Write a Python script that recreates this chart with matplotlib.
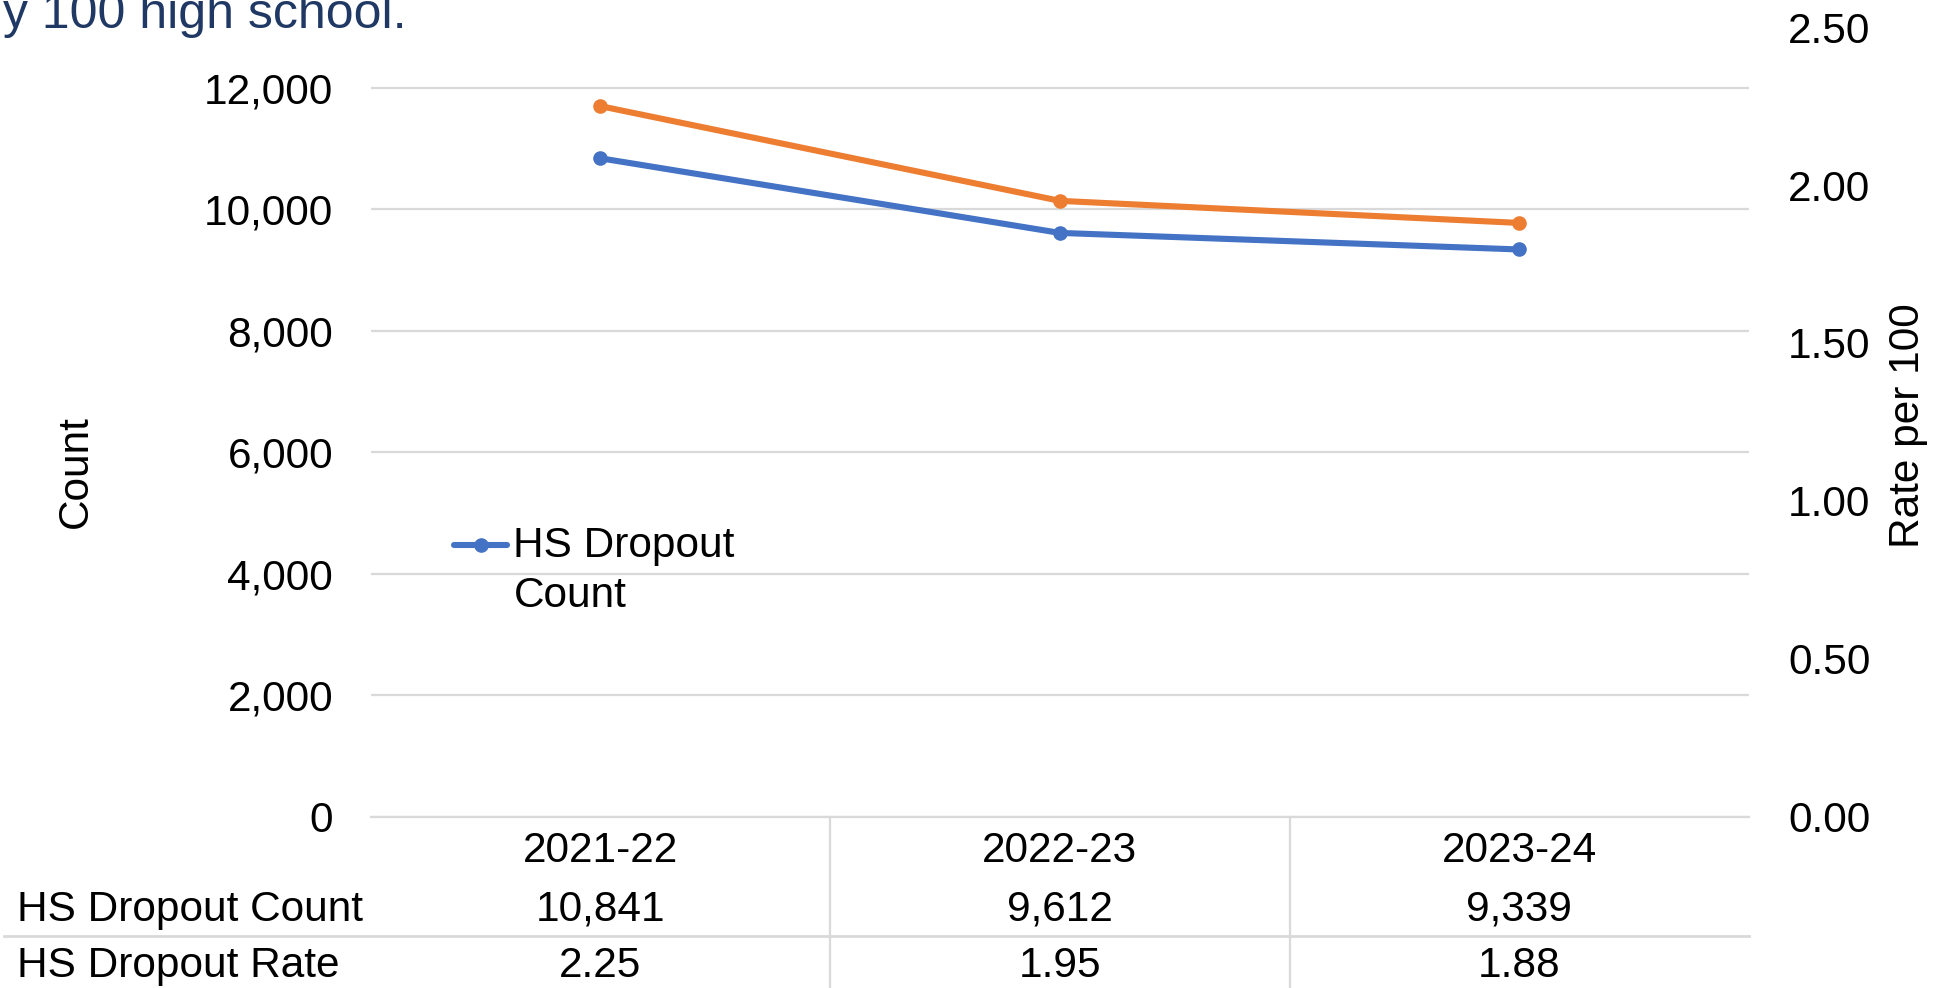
import matplotlib.pyplot as plt
from matplotlib.lines import Line2D
from matplotlib.legend_handler import HandlerLine2D
from matplotlib.ticker import FuncFormatter

# datos
anos = ['2021-22', '2022-23', '2023-24']
dropout_count = [10841, 9612, 9339]
dropout_rate = [2.25, 1.95, 1.88]
count_labels = ['10,841', '9,612', '9,339']
rate_labels = ['2.25', '1.95', '1.88']
row_names = ['HS Dropout Count', 'HS Dropout Rate']

AZUL = '#4472C4'
LARANJA = '#ED7D31'
GRADE = '#D9D9D9'
FS = 30.5


class HandleNaPrimeiraLinha(HandlerLine2D):
    # sobe o traço da legenda para ficar na altura da primeira linha do texto
    def create_artists(self, legend, orig_handle, xdescent, ydescent, width, height, fontsize, trans):
        return super().create_artists(legend, orig_handle, xdescent, ydescent - 39,
                                      width, height, fontsize, trans)


plt.rcParams['font.family'] = ['Liberation Sans', 'DejaVu Sans']

fig = plt.figure(figsize=(19.37, 9.88), dpi=100)
ax = fig.add_axes([0.1913, 0.1735, 0.7117, 0.799])
ax2 = ax.twinx()

x = list(range(len(anos)))
linha_count, = ax.plot(x, dropout_count, color=AZUL, lw=4.4, marker='o', ms=9.5,
                       label='HS Dropout\nCount', solid_capstyle='round', zorder=3)
ax2.plot(x, dropout_rate, color=LARANJA, lw=4.4, marker='o', ms=9.5, solid_capstyle='round')

ax.set_xlim(-0.5, 2.5)
ax.set_ylim(0, 13000)
ax.set_yticks(range(0, 12001, 2000))
ax.yaxis.set_major_formatter(FuncFormatter(lambda v, p: f'{int(v):,}'))
ax2.set_ylim(0, 2.5)
ax2.set_yticks([0, 0.5, 1.0, 1.5, 2.0, 2.5])
ax2.yaxis.set_major_formatter(FuncFormatter(lambda v, p: f'{v:.2f}'))

ax.grid(axis='y', color=GRADE, lw=1.6)
ax.set_axisbelow(True)
for a in (ax, ax2):
    for s in a.spines.values():
        s.set_visible(False)
ax.spines['bottom'].set_visible(True)
ax.spines['bottom'].set_color(GRADE)
ax.spines['bottom'].set_linewidth(1.6)

ax.tick_params(axis='y', length=0, pad=27, labelsize=FS)
ax2.tick_params(axis='y', length=0, pad=28, labelsize=FS)
ax.set_xticks([])

ax.set_ylabel('Count', fontsize=FS)
ax.yaxis.set_label_coords(-0.199, 0.4365)
ax2.set_ylabel('Rate per 100', fontsize=FS)
ax2.yaxis.set_label_coords(1.101, 0.495)

# tabela de dados abaixo do gráfico
tr = ax.get_xaxis_transform()
for i, ano in enumerate(anos):
    ax.text(i, -0.043, ano, transform=tr, ha='center', va='center', fontsize=FS, clip_on=False)
    ax.text(i, -0.118, count_labels[i], transform=tr, ha='center', va='center', fontsize=FS, clip_on=False)
    ax.text(i, -0.189, rate_labels[i], transform=tr, ha='center', va='center', fontsize=FS, clip_on=False)
for xb in [0.5, 1.5]:
    ax.plot([xb, xb], [0, -0.22], transform=tr, color=GRADE, lw=1.6, clip_on=False)

fig.text(0.0089, 0.079, row_names[0], ha='left', va='center', fontsize=FS)
fig.text(0.0089, 0.0225, row_names[1], ha='left', va='center', fontsize=FS)
fig.add_artist(Line2D([0.002, 0.903], [0.0522, 0.0522], transform=fig.transFigure,
                      color=GRADE, lw=2))

# título cortado no topo
fig.text(0.0015, 0.9715, 'y 100 high school.', ha='left', va='baseline',
         fontsize=36, color='#1F3864')

leg = ax.legend(loc='center left', bbox_to_anchor=(0.033, 0.311), frameon=False,
                fontsize=FS, handlelength=1.25, handletextpad=0.15, labelspacing=0,
                handler_map={linha_count: HandleNaPrimeiraLinha()})
for t in leg.get_texts():
    t.set_linespacing(1.3)

plt.savefig('out.png', dpi=100)
